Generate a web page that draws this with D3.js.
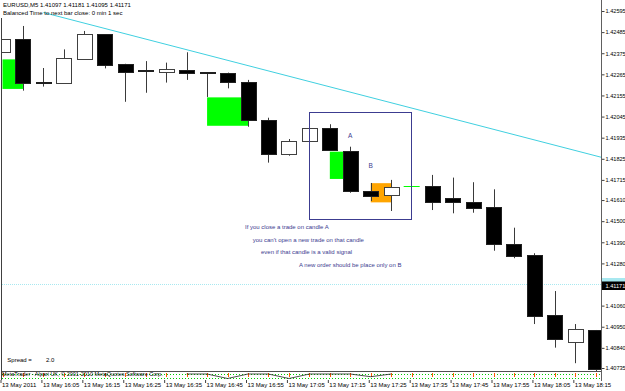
<!DOCTYPE html>
<html>
<head>
<meta charset="utf-8">
<script src="https://cdnjs.cloudflare.com/ajax/libs/d3/7.8.5/d3.min.js"></script>
<style>
  html, body { margin: 0; padding: 0; background: #fff; }
  svg { display: block; font-family: 'Liberation Sans', Arial, sans-serif; }
</style>
</head>
<body>
<svg id="chart" width="625" height="391"></svg>
<script>
// EURUSD M5 bars, 13 May 2011
const times = ['15:55','16:00','16:05','16:10','16:15','16:20','16:25','16:30','16:35','16:40',
               '16:45','16:50','16:55','17:00','17:05','17:10','17:15','17:20','17:25','17:30',
               '17:35','17:40','17:45','17:50','17:55','18:00','18:05','18:10','18:15','18:20'];
const opens  = [1.42381,1.42449,1.42223,1.42221,1.42343,1.42475,1.42320,1.42286,1.42276,1.42288,
                1.42275,1.42274,1.42225,1.42027,1.41850,1.41916,1.41987,1.41867,1.41659,1.41633,
                1.41682,1.41683,1.41622,1.41601,1.41575,1.41381,1.41325,1.41013,1.40871,1.40933];
const highs  = [1.42449,1.42517,1.42298,1.42395,1.42491,1.42475,1.42320,1.42334,1.42326,1.42380,
                1.42275,1.42274,1.42236,1.42039,1.41928,1.41985,1.42005,1.41888,1.41699,1.41715,
                1.41682,1.41741,1.41727,1.41703,1.41666,1.41466,1.41333,1.41136,1.40964,1.40933];
const lows   = [1.42381,1.42180,1.42201,1.42220,1.42343,1.42296,1.42122,1.42169,1.42222,1.42236,
                1.42147,1.42192,1.41992,1.41805,1.41841,1.41916,1.41871,1.41648,1.41605,1.41553,
                1.41682,1.41558,1.41541,1.41544,1.41346,1.41307,1.40964,1.40841,1.40760,1.40700];
const closes = [1.42449,1.42218,1.42221,1.42349,1.42475,1.42314,1.42276,1.42282,1.42294,1.42271,
                1.42269,1.42227,1.42027,1.41850,1.41916,1.41985,1.41871,1.41661,1.41631,1.41677,
                1.41682,1.41601,1.41601,1.41570,1.41381,1.41320,1.41008,1.40886,1.40937,1.40728];

const priceTicks = [1.42595,1.42485,1.42375,1.42265,1.42155,1.42045,1.41935,1.41825,1.41715,
                    1.41610,1.41500,1.41390,1.41280,1.41060,1.40950,1.40840,1.40735];
const timeTickTimes  = ['15:55','16:05','16:15','16:25','16:35','16:45','16:55','17:05',
                        '17:15','17:25','17:35','17:45','17:55','18:05','18:15'];
const timeTickLabels = ['13 May 2011','13 May 16:05','13 May 16:15','13 May 16:25','13 May 16:35',
                        '13 May 16:45','13 May 16:55','13 May 17:05','13 May 17:15','13 May 17:25',
                        '13 May 17:35','13 May 17:45','13 May 17:55','13 May 18:05','13 May 18:15'];

const bidPrice = 1.41171;
const headerText = 'EURUSD,M5  1.41097 1.41181 1.41095 1.41171';
const timerText = 'Balanced Time to next bar close: 0 min 1 sec';

// highlight zones drawn by the indicator (from bar, to bar, top, bottom)
const zoneFrom   = ['15:55','16:45','17:15','17:25'];
const zoneTo     = ['16:00','16:55','17:20','17:30'];
const zoneTop    = [1.42343,1.42145,1.41862,1.41698];
const zoneBottom = [1.42189,1.41997,1.41720,1.41598];
const zoneKind   = ['zone','zone','zone','entry'];

// trend line anchors
const trendTimes  = ['16:05','18:15'];
const trendPrices = [1.42587,1.41868];

// user rectangle and labels
const boxTimes  = ['17:10','17:35'];
const boxPrices = [1.42069,1.41511];
const markTexts  = ['A','B'];
const markTimes  = ['17:20','17:25'];
const markPrices = [1.41945,1.41789];
const noteLines = ['If you close a trade on candle A',
                   "you can't open a new trade on that candle",
                   'even if that candle is a valid signal',
                   'A new order should be place only on B'];

// bottom sub-window line
const oscTimes  = ['16:40','16:45','16:50','16:55','17:00','17:05','17:10','17:15','17:20','17:25','17:30'];
const oscValues = [0,0,-1,0,0,-1,0,0,0,-0.6,0];

const spreadValue = '2.0';

const plot = {left: 2, right: 601, top: 0, bottom: 371.5};
const svg = d3.select('#chart');

const x = d3.scalePoint().domain(times).range([2.5, 595.8]);
const y = d3.scaleLinear().domain([1.40735, 1.42595]).range([368, 11]);

svg.append('rect').attr('width', 625).attr('height', 391).attr('fill', '#ffffff');

svg.append('defs').append('clipPath').attr('id', 'plotclip')
   .append('rect')
   .attr('x', plot.left).attr('y', plot.top)
   .attr('width', plot.right - plot.left).attr('height', plot.bottom - plot.top);

const g = svg.append('g').attr('clip-path', 'url(#plotclip)');

// zones under candles
const zoneColor = {zone: '#00ff00', entry: '#ffa500'};
g.selectAll('.zone')
 .data(zoneFrom.map((d, i) => i))
 .join('rect')
 .attr('class', 'zone')
 .attr('x', i => x(zoneFrom[i]))
 .attr('y', i => y(zoneTop[i]))
 .attr('width', i => x(zoneTo[i]) - x(zoneFrom[i]))
 .attr('height', i => y(zoneBottom[i]) - y(zoneTop[i]))
 .attr('fill', i => zoneColor[zoneKind[i]]);

// bid line
g.append('line')
 .attr('x1', plot.left).attr('x2', plot.right)
 .attr('y1', Math.round(y(bidPrice)) + 0.5).attr('y2', Math.round(y(bidPrice)) + 0.5)
 .attr('stroke', '#a8e8f0').attr('stroke-dasharray', '1,1');

// candles
const bars = times.map((t, i) => ({t, o: opens[i], h: highs[i], l: lows[i], c: closes[i]}));
const candle = g.selectAll('.candle').data(bars).join('g').attr('class', 'candle');

candle.filter(d => d.h > d.l).append('line')
  .attr('x1', d => Math.round(x(d.t)) + 0.5)
  .attr('x2', d => Math.round(x(d.t)) + 0.5)
  .attr('y1', d => y(d.h))
  .attr('y2', d => y(d.l))
  .attr('stroke', '#3a3a3a');

candle.filter(d => d.o !== d.c).append('rect')
  .attr('x', d => Math.round(x(d.t) - 7.5) + 0.5)
  .attr('y', d => Math.round(y(Math.max(d.o, d.c))) + 0.5)
  .attr('width', 15)
  .attr('height', d => Math.max(1, Math.round(Math.abs(y(d.o) - y(d.c)))))
  .attr('fill', d => d.c > d.o ? '#ffffff' : '#000000')
  .attr('stroke', d => d.c > d.o ? '#404040' : '#202020');

candle.filter(d => d.o === d.c).append('line')
  .attr('x1', d => x(d.t) - 8)
  .attr('x2', d => x(d.t) + 8)
  .attr('y1', d => Math.round(y(d.o)) + 0.5)
  .attr('y2', d => Math.round(y(d.o)) + 0.5)
  .attr('stroke', '#00ff00');

// trend line extended as a ray to the right edge
const tx1 = x(trendTimes[0]), ty1 = y(trendPrices[0]);
const tx2 = x(trendTimes[1]), ty2 = y(trendPrices[1]);
const slope = (ty2 - ty1) / (tx2 - tx1);
g.append('line')
 .attr('x1', tx1).attr('y1', ty1)
 .attr('x2', plot.right).attr('y2', ty1 + slope * (plot.right - tx1))
 .attr('stroke', '#40d0e0').attr('stroke-width', 1);

// user rectangle
g.append('rect')
 .attr('x', Math.round(x(boxTimes[0])) + 0.5)
 .attr('y', Math.round(y(boxPrices[0])) + 0.5)
 .attr('width', Math.round(x(boxTimes[1]) - x(boxTimes[0])))
 .attr('height', Math.round(y(boxPrices[1]) - y(boxPrices[0])))
 .attr('fill', 'none')
 .attr('stroke', '#3c3c90');

g.selectAll('.mark')
 .data(markTexts)
 .join('text')
 .attr('class', 'mark')
 .attr('x', (d, i) => x(markTimes[i]))
 .attr('y', (d, i) => y(markPrices[i]))
 .attr('dy', '0.35em')
 .attr('text-anchor', 'middle')
 .attr('font-size', 6.5)
 .attr('fill', '#3c3c90')
 .text(d => d);

const notePos = [[245, 227.3], [252.7, 240], [261, 252], [299, 265]];
g.selectAll('.note')
 .data(noteLines)
 .join('text')
 .attr('class', 'note')
 .attr('x', (d, i) => notePos[i][0])
 .attr('y', (d, i) => notePos[i][1])
 .attr('dy', '0.35em')
 .attr('font-size', 6)
 .attr('fill', '#3c3c90')
 .text(d => d);

// header and spread
svg.append('text').attr('x', 3).attr('y', 5).attr('dy', '0.35em')
   .attr('font-size', 6).attr('fill', '#000').text(headerText);
svg.append('text').attr('x', 3).attr('y', 13.3).attr('dy', '0.35em')
   .attr('font-size', 6).attr('fill', '#000').text(timerText);
svg.append('text').attr('x', 7.3).attr('y', 360).attr('dy', '0.35em')
   .attr('font-size', 6).attr('fill', '#000').text('Spread  =');
svg.append('text').attr('x', 46).attr('y', 360).attr('dy', '0.35em')
   .attr('font-size', 6).attr('fill', '#000').text(spreadValue);

// chart frame
svg.append('line').attr('x1', 1.5).attr('x2', 1.5).attr('y1', 18).attr('y2', 380)
   .attr('stroke', '#404040');

// bottom sub-window strip
const strip = svg.append('g');
strip.append('line').attr('x1', plot.left).attr('x2', plot.right)
     .attr('y1', 371.5).attr('y2', 371.5).attr('stroke', '#505050');
[374.5, 378.5].forEach(yy => {
  strip.append('line').attr('x1', plot.left).attr('x2', plot.right)
       .attr('y1', yy).attr('y2', yy)
       .attr('stroke', '#00d000').attr('stroke-dasharray', '1,2');
});
strip.selectAll('.omark').data(times).join('line')
     .attr('class', 'omark')
     .attr('x1', d => Math.round(x(d)) + 0.5).attr('x2', d => Math.round(x(d)) + 0.5)
     .attr('y1', 373).attr('y2', 377)
     .attr('stroke', '#ff5a00');
const oy = d3.scaleLinear().domain([-1, 0]).range([378.5, 374]);
strip.append('path')
     .datum(oscTimes.map((t, i) => [x(t), oy(oscValues[i])]))
     .attr('d', d3.line())
     .attr('fill', 'none').attr('stroke', '#202020').attr('stroke-width', 0.8);
strip.append('text').attr('x', 2).attr('y', 373.8).attr('dy', '0.35em')
     .attr('font-size', 5.5).attr('fill', '#000')
     .text('MetaTrader - Alpari UK, \u00a9 2001-2010 MetaQuotes Software Corp.');

// price axis
const yAxis = d3.axisRight(y).tickValues(priceTicks).tickSize(3).tickPadding(1)
                .tickFormat(d3.format('.5f'));
const yg = svg.append('g').attr('transform', 'translate(601.5,0)').call(yAxis);
yg.select('.domain').remove();
yg.selectAll('text').attr('font-size', 5.6).attr('fill', '#000');
yg.selectAll('line').attr('stroke', '#404040');
svg.append('line').attr('x1', 601.5).attr('x2', 601.5).attr('y1', 0).attr('y2', 381)
   .attr('stroke', '#606060');

// current price label
svg.append('rect').attr('x', 602).attr('y', 278).attr('width', 23).attr('height', 6)
   .attr('fill', '#a8e8f0');
svg.append('rect').attr('x', 602).attr('y', 281.5).attr('width', 23).attr('height', 8.5)
   .attr('fill', '#000');
svg.append('text').attr('x', 605.5).attr('y', 286).attr('dy', '0.35em')
   .attr('font-size', 5.6).attr('fill', '#fff').text(d3.format('.5f')(bidPrice));

// time axis
const xAxis = d3.axisBottom(x).tickValues(timeTickTimes).tickSize(3)
                .tickFormat((d, i) => timeTickLabels[i]);
const xg = svg.append('g').attr('transform', 'translate(0,380)').call(xAxis);
xg.select('.domain').remove();
xg.selectAll('.tick line').attr('transform', 'translate(-2,0)').attr('stroke', '#404040');
xg.selectAll('text')
  .attr('text-anchor', 'start')
  .attr('x', -1)
  .attr('y', 3)
  .attr('font-size', 6)
  .attr('fill', '#000');
</script>
</body>
</html>
